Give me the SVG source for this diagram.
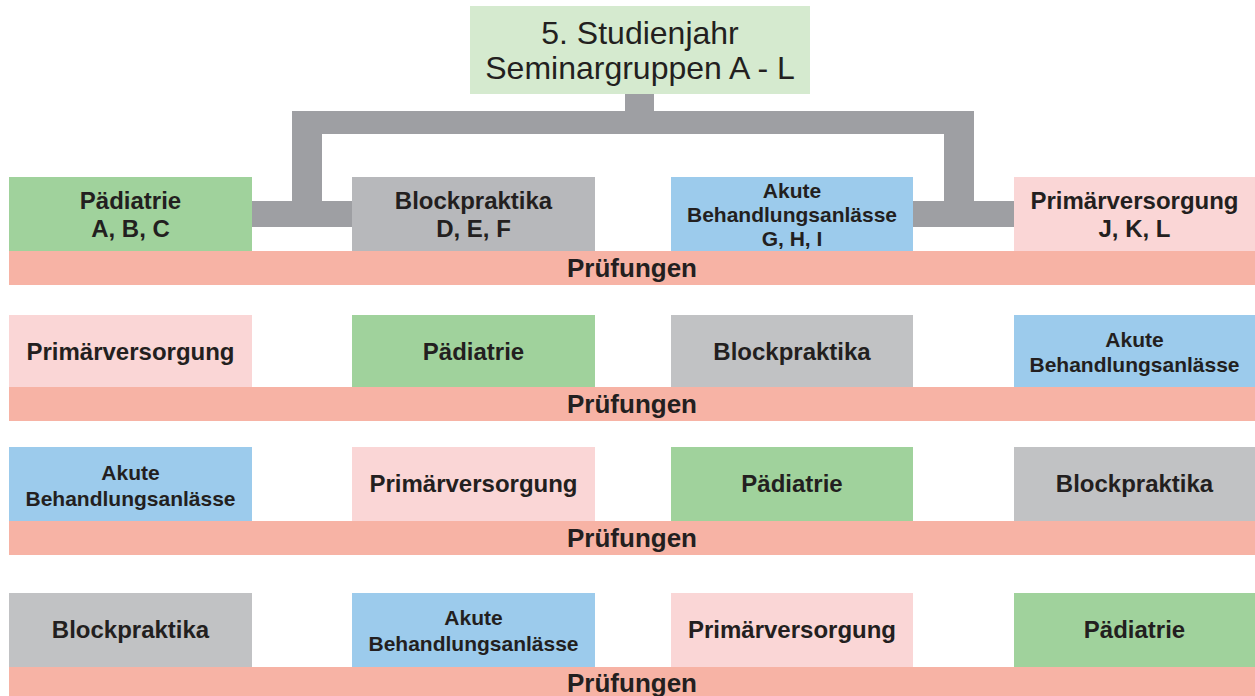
<svg xmlns="http://www.w3.org/2000/svg" width="1255" height="696" viewBox="0 0 1255 696">
<style>
.t{font-family:"Liberation Sans",Arial,sans-serif;font-weight:bold;fill:#231f20;text-anchor:middle}
.l{font-size:24px}
.s{font-size:21px}
.p{font-size:26px}
.h{font-family:"Liberation Sans",Arial,sans-serif;font-size:32px;fill:#231f20;text-anchor:middle}
.pae{fill:#a0d29c}
.blk{fill:#c1c2c4}
.blk1{fill:#b7b8bb}
.aku{fill:#9ccbec}
.pri{fill:#fad6d6}
.pru{fill:#f7b3a5}
.con{fill:#9e9fa3}
</style>
<rect width="1255" height="696" fill="#ffffff"/>
<g id="connectors">
<path class="con" d="M625 94H654V111H974V201H1014V227H913V201H944V134H322V201H352V227H252V201H292V111H625Z"/>
</g>
<g id="root">
<rect x="470" y="6" width="340" height="88" fill="#d5eacf"/>
<text class="h" x="640" y="44">5. Studienjahr</text>
<text class="h" x="640" y="79">Seminargruppen A - L</text>
</g>
<!-- Row 1 -->
<g id="r1-paediatrie"><rect class="pae" x="9" y="177" width="243" height="74"/>
<text class="t l" x="130.5" y="209">Pädiatrie</text><text class="t l" x="130.5" y="237">A, B, C</text></g>
<g id="r1-block"><rect class="blk1" x="352" y="177" width="243" height="74"/>
<text class="t l" x="473.5" y="209">Blockpraktika</text><text class="t l" x="473.5" y="237">D, E, F</text></g>
<g id="r1-akut"><rect class="aku" x="671" y="177" width="242" height="74"/>
<text class="t s" x="792" y="198">Akute</text><text class="t s" x="792" y="222">Behandlungsanlässe</text><text class="t s" x="792" y="246">G, H, I</text></g>
<g id="r1-primaer"><rect class="pri" x="1014" y="177" width="241" height="74"/>
<text class="t l" x="1134.5" y="209">Primärversorgung</text><text class="t l" x="1134.5" y="237">J, K, L</text></g>
<g id="r1-pruef"><rect class="pru" x="9" y="251" width="1246" height="34"/>
<text class="t p" x="632" y="277">Prüfungen</text></g>
<!-- Row 2 -->
<g id="r2-primaer"><rect class="pri" x="9" y="315" width="243" height="72"/>
<text class="t l" x="130.5" y="360">Primärversorgung</text></g>
<g id="r2-paediatrie"><rect class="pae" x="352" y="315" width="243" height="72"/>
<text class="t l" x="473.5" y="360">Pädiatrie</text></g>
<g id="r2-block"><rect class="blk" x="671" y="315" width="242" height="72"/>
<text class="t l" x="792" y="360">Blockpraktika</text></g>
<g id="r2-akut"><rect class="aku" x="1014" y="315" width="241" height="72"/>
<text class="t s" x="1134.5" y="347">Akute</text><text class="t s" x="1134.5" y="372">Behandlungsanlässe</text></g>
<g id="r2-pruef"><rect class="pru" x="9" y="387" width="1246" height="34"/>
<text class="t p" x="632" y="413">Prüfungen</text></g>
<!-- Row 3 -->
<g id="r3-akut"><rect class="aku" x="9" y="447" width="243" height="74"/>
<text class="t s" x="130.5" y="480">Akute</text><text class="t s" x="130.5" y="506">Behandlungsanlässe</text></g>
<g id="r3-primaer"><rect class="pri" x="352" y="447" width="243" height="74"/>
<text class="t l" x="473.5" y="492">Primärversorgung</text></g>
<g id="r3-paediatrie"><rect class="pae" x="671" y="447" width="242" height="74"/>
<text class="t l" x="792" y="492">Pädiatrie</text></g>
<g id="r3-block"><rect class="blk" x="1014" y="447" width="241" height="74"/>
<text class="t l" x="1134.5" y="492">Blockpraktika</text></g>
<g id="r3-pruef"><rect class="pru" x="9" y="521" width="1246" height="34"/>
<text class="t p" x="632" y="547">Prüfungen</text></g>
<!-- Row 4 -->
<g id="r4-block"><rect class="blk" x="9" y="593" width="243" height="74"/>
<text class="t l" x="130.5" y="638">Blockpraktika</text></g>
<g id="r4-akut"><rect class="aku" x="352" y="593" width="243" height="74"/>
<text class="t s" x="473.5" y="625">Akute</text><text class="t s" x="473.5" y="651">Behandlungsanlässe</text></g>
<g id="r4-primaer"><rect class="pri" x="671" y="593" width="242" height="74"/>
<text class="t l" x="792" y="638">Primärversorgung</text></g>
<g id="r4-paediatrie"><rect class="pae" x="1014" y="593" width="241" height="74"/>
<text class="t l" x="1134.5" y="638">Pädiatrie</text></g>
<g id="r4-pruef"><rect class="pru" x="9" y="667" width="1246" height="34"/>
<text class="t p" x="632" y="692">Prüfungen</text></g>
</svg>
